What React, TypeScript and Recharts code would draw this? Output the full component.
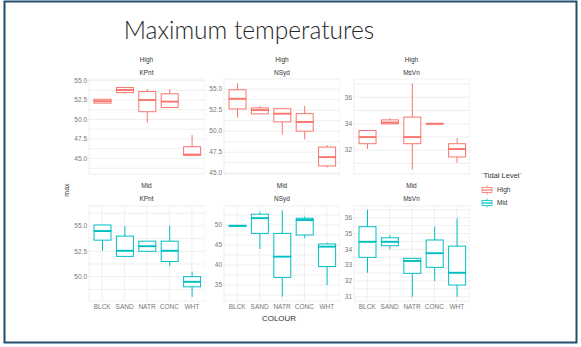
import { Bar, BarChart, CartesianGrid, XAxis, YAxis } from "recharts";

const categories = ["BLCK", "SAND", "NATR", "CONC", "WHT"];

// [lower whisker, q1, median, q3, upper whisker] per colour
const highKPnt = [
  [52.1, 52.1, 52.35, 52.6, 52.6],
  [53.3, 53.45, 53.8, 54.1, 54.1],
  [49.6, 51.0, 52.5, 53.6, 53.9],
  [51.55, 51.55, 52.3, 53.3, 53.9],
  [45.4, 45.4, 45.5, 46.5, 48.0],
];
const highNSyd = [
  [51.6, 52.64, 53.85, 54.92, 55.7],
  [52.05, 52.05, 52.5, 52.76, 53.0],
  [49.6, 51.1, 52.08, 52.67, 52.67],
  [49.0, 50.0, 51.1, 52.08, 53.0],
  [45.67, 45.86, 46.9, 48.1, 48.34],
];
const highMsVn = [
  [32.09, 32.49, 32.99, 33.49, 33.49],
  [33.99, 33.99, 34.09, 34.29, 34.42],
  [30.53, 32.49, 32.99, 34.5, 37.05],
  [33.98, 33.98, 34.0, 34.02, 34.02],
  [31.04, 31.49, 32.09, 32.49, 32.92],
];
const midKPnt = [
  [52.56, 53.6, 54.5, 55.1, 55.1],
  [52.0, 52.0, 52.56, 54.0, 55.0],
  [52.5, 52.5, 53.0, 53.5, 53.5],
  [51.05, 51.5, 52.56, 53.5, 55.0],
  [48.0, 49.0, 49.5, 50.0, 50.5],
];
const midNSyd = [
  [49.7, 49.7, 49.8, 49.9, 49.9],
  [44.0, 47.9, 51.7, 52.7, 53.3],
  [32.1, 36.9, 42.1, 47.9, 53.6],
  [46.7, 47.5, 51.25, 51.7, 52.1],
  [35.0, 39.6, 44.6, 45.25, 45.6],
];
const midMsVn = [
  [32.52, 33.49, 34.48, 35.43, 36.49],
  [34.0, 34.23, 34.48, 34.73, 34.9],
  [31.0, 32.48, 33.26, 33.43, 33.43],
  [32.0, 32.86, 33.75, 34.59, 35.43],
  [31.0, 31.74, 32.52, 34.2, 35.96],
];

const ticksKPntHigh = [45, 47.5, 50, 52.5, 55];
const minorKPntHigh = [43.75, 46.25, 48.75, 51.25, 53.75];
const ticksNSydHigh = [45, 47.5, 50, 52.5, 55];
const minorNSydHigh = [46.25, 48.75, 51.25, 53.75];
const ticksMsVnHigh = [32, 34, 36];
const minorMsVnHigh = [31, 33, 35, 37];
const ticksKPntMid = [50, 52.5, 55];
const minorKPntMid = [48.75, 51.25, 53.75, 56.25];
const ticksNSydMid = [35, 40, 45, 50];
const minorNSydMid = [32.5, 37.5, 42.5, 47.5, 52.5];
const ticksMsVnMid = [31, 32, 33, 34, 35, 36];
const minorMsVnMid = [31.5, 32.5, 33.5, 34.5, 35.5, 36.5];

const HIGH = "#F8766D";
const MID = "#00BFC4";
const FONT = "'Liberation Sans', Arial, sans-serif";

const PLOT_W = 116;
const PLOT_H = 95;
const AXIS_W = 22;
const X_H = 14;
const TOP_PAD = 6;
const colLeft = [88.5, 224, 353.5];
const rowTop = [79, 206];

const panels = [
  { level: "High", site: "KPnt", stats: highKPnt, domain: [43.0, 55.2], major: ticksKPntHigh, minor: minorKPntHigh, digits: 1, color: HIGH, row: 0, col: 0 },
  { level: "High", site: "NSyd", stats: highNSyd, domain: [44.9, 56.2], major: ticksNSydHigh, minor: minorNSydHigh, digits: 1, color: HIGH, row: 0, col: 1 },
  { level: "High", site: "MsVn", stats: highMsVn, domain: [30.2, 37.38], major: ticksMsVnHigh, minor: minorMsVnHigh, digits: 0, color: HIGH, row: 0, col: 2 },
  { level: "Mid", site: "KPnt", stats: midKPnt, domain: [47.6, 56.97], major: ticksKPntMid, minor: minorKPntMid, digits: 1, color: MID, row: 1, col: 0 },
  { level: "Mid", site: "NSyd", stats: midNSyd, domain: [31.0, 54.75], major: ticksNSydMid, minor: minorNSydMid, digits: 0, color: MID, row: 1, col: 1 },
  { level: "Mid", site: "MsVn", stats: midMsVn, domain: [30.73, 36.74], major: ticksMsVnMid, minor: minorMsVnMid, digits: 0, color: MID, row: 1, col: 2 },
];

const toRows = (stats: number[][]) =>
  categories.map((name, i) => {
    const [lo, q1, med, q3, hi] = stats[i];
    return { name, base: lo, wLo: q1 - lo, bLo: med - q1, bHi: q3 - med, wHi: hi - q3 };
  });

const whisker = (color: string) => (p: any) => {
  const cx = p.x + p.width / 2;
  return <line x1={cx} x2={cx} y1={p.y} y2={p.y + p.height} stroke={color} strokeWidth={1} />;
};
const lowerBox = (color: string) => (p: any) => (
  <rect x={p.x} y={p.y} width={p.width} height={p.height} fill="#fff" stroke={color} strokeWidth={1} />
);
const upperBox = (color: string) => (p: any) => (
  <g>
    <rect x={p.x} y={p.y} width={p.width} height={p.height} fill="#fff" stroke={color} strokeWidth={1} />
    <line x1={p.x} x2={p.x + p.width} y1={p.y + p.height} y2={p.y + p.height} stroke={color} strokeWidth={1.8} />
  </g>
);

const YTick = (props: any) => {
  const { x, y, payload, major, digits } = props;
  if (!major.includes(payload.value)) return <g />;
  return (
    <text x={x} y={y} dy="0.35em" textAnchor="end" fontSize={6.5} fontFamily={FONT} fill="#777">
      {payload.value.toFixed(digits)}
    </text>
  );
};

const XTick = (props: any) => {
  const { x, y, payload } = props;
  return (
    <text x={x} y={y} dy="0.71em" textAnchor="middle" fontSize={6.5} fontFamily={FONT} fill="#777">
      {payload.value}
    </text>
  );
};

function Panel({ p }: { p: (typeof panels)[number] }) {
  const rows = toRows(p.stats);
  const ticks = [...p.major, ...p.minor].sort((a, b) => a - b);
  const left = colLeft[p.col];
  const top = rowTop[p.row];
  return (
    <div style={{ position: "absolute", left: left - AXIS_W, top: top - TOP_PAD }}>
      <BarChart
        width={AXIS_W + PLOT_W}
        height={TOP_PAD + PLOT_H + X_H}
        data={rows}
        margin={{ top: TOP_PAD, right: 0, bottom: 0, left: 0 }}
        barSize={17}
      >
        <CartesianGrid stroke="#ebebeb" strokeWidth={0.8} />
        <XAxis
          dataKey="name"
          height={X_H}
          padding={{ left: 2, right: 2 }}
          axisLine={false}
          tickLine={false}
          tickSize={0}
          tickMargin={3}
          interval={0}
          tick={p.row === 1 ? <XTick /> : false}
        />
        <YAxis
          type="number"
          width={AXIS_W}
          domain={p.domain}
          allowDataOverflow
          ticks={ticks}
          interval={0}
          axisLine={false}
          tickLine={false}
          tickSize={0}
          tickMargin={2}
          tick={<YTick major={p.major} digits={p.digits} />}
        />
        <Bar dataKey="base" stackId="box" shape={() => <g />} isAnimationActive={false} />
        <Bar dataKey="wLo" stackId="box" shape={whisker(p.color)} isAnimationActive={false} />
        <Bar dataKey="bLo" stackId="box" shape={lowerBox(p.color)} isAnimationActive={false} />
        <Bar dataKey="bHi" stackId="box" shape={upperBox(p.color)} isAnimationActive={false} />
        <Bar dataKey="wHi" stackId="box" shape={whisker(p.color)} isAnimationActive={false} />
      </BarChart>
    </div>
  );
}

const LegendKey = ({ x, y, color }: { x: number; y: number; color: string }) => (
  <g>
    <line x1={x + 5} x2={x + 5} y1={y - 4.5} y2={y + 4.5} stroke={color} strokeWidth={0.8} />
    <rect x={x} y={y - 2.5} width={10} height={5} fill="#fff" stroke={color} strokeWidth={0.8} />
    <line x1={x} x2={x + 10} y1={y} y2={y} stroke={color} strokeWidth={1.2} />
  </g>
);

export default function App() {
  return (
    <div style={{ position: "absolute", left: 0, top: 0, width: 581, height: 347, background: "#fff", overflow: "hidden" }}>
      {panels.map((p) => (
        <Panel key={p.level + p.site} p={p} />
      ))}
      <svg width={581} height={347} style={{ position: "absolute", left: 0, top: 0, pointerEvents: "none" }}>
        <rect x={4.5} y={1.5} width={572} height={341} fill="none" stroke="#1f4e6e" strokeWidth={2} />
        <text x={249} y={39} textAnchor="middle" fontSize={24.5} fontWeight={300} fontFamily="Lato, 'Open Sans', sans-serif" fill="#262626">
          Maximum temperatures
        </text>
        {panels.map((p) => {
          const cx = colLeft[p.col] + PLOT_W / 2;
          const y0 = p.row === 0 ? 60 : 186;
          return (
            <g key={"s" + p.level + p.site} fontFamily={FONT} fontSize={6.5} fill="#333" textAnchor="middle">
              <text x={cx} y={y0} dy="0.35em">{p.level}</text>
              <text x={cx} y={y0 + 13} dy="0.35em">{p.site}</text>
            </g>
          );
        })}
        <text x={67} y={190} transform="rotate(-90 67 190)" textAnchor="middle" dy="0.35em" fontSize={7} fontFamily={FONT} fill="#333">
          max
        </text>
        <text x={279} y={318} textAnchor="middle" dy="0.35em" fontSize={8} fontFamily={FONT} fill="#333">
          COLOUR
        </text>
        <text x={481} y={175} dy="0.35em" fontSize={7.5} fontFamily={FONT} fill="#333">
          `Tidal Level`
        </text>
        <LegendKey x={482} y={190} color={HIGH} />
        <text x={497} y={190} dy="0.35em" fontSize={6.5} fontFamily={FONT} fill="#333">High</text>
        <LegendKey x={482} y={203} color={MID} />
        <text x={497} y={203} dy="0.35em" fontSize={6.5} fontFamily={FONT} fill="#333">Mid</text>
      </svg>
    </div>
  );
}
